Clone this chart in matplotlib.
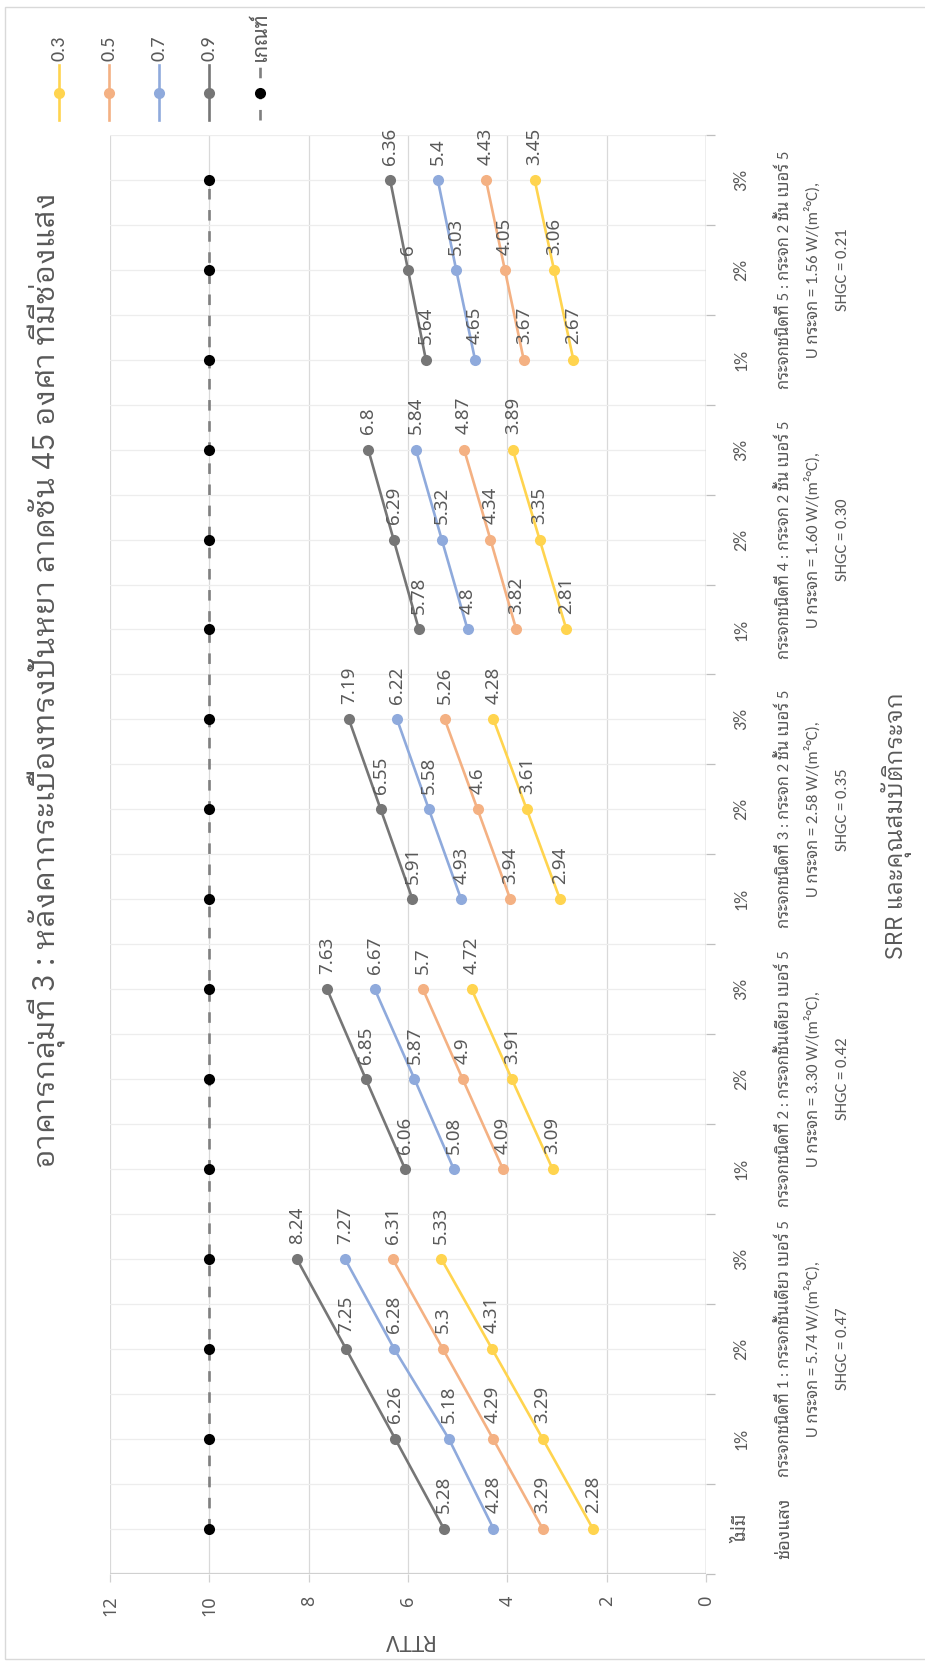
import matplotlib
matplotlib.use("Agg")
import matplotlib.pyplot as plt
import numpy as np
from matplotlib.lines import Line2D
from matplotlib.patches import Rectangle
from matplotlib import transforms

# ---- data -------------------------------------------------------------
title = "อาคารกลุ่มที่ 3 : หลังคากระเบื้องทรงปั้นหยา ลาดชัน 45 องศา ที่มีช่องแสง"
value_title = "RTTV"
category_title = "SRR และคุณสมบัติกระจก"

group_names = [
    "กระจกชนิดที่ 1 : กระจกชั้นเดียว เบอร์ 5",
    "กระจกชนิดที่ 2 : กระจกชั้นเดียว เบอร์ 5",
    "กระจกชนิดที่ 3 : กระจก 2 ชั้น เบอร์ 5",
    "กระจกชนิดที่ 4 : กระจก 2 ชั้น เบอร์ 5",
    "กระจกชนิดที่ 5 : กระจก 2 ชั้น เบอร์ 5",
]
group_u = ["5.74", "3.30", "2.58", "1.60", "1.56"]
group_shgc = ["0.47", "0.42", "0.35", "0.30", "0.21"]
group_windows = [
    ["ไม่มี\nช่องแสง", "1%", "2%", "3%"],
    ["1%", "2%", "3%"],
    ["1%", "2%", "3%"],
    ["1%", "2%", "3%"],
    ["1%", "2%", "3%"],
]

series_names = ["0.3", "0.5", "0.7", "0.9"]
rttv_03 = [[2.28, 3.29, 4.31, 5.33], [3.09, 3.91, 4.72], [2.94, 3.61, 4.28], [2.81, 3.35, 3.89], [2.67, 3.06, 3.45]]
rttv_05 = [[3.29, 4.29, 5.30, 6.31], [4.09, 4.90, 5.70], [3.94, 4.60, 5.26], [3.82, 4.34, 4.87], [3.67, 4.05, 4.43]]
rttv_07 = [[4.28, 5.18, 6.28, 7.27], [5.08, 5.87, 6.67], [4.93, 5.58, 6.22], [4.80, 5.32, 5.84], [4.65, 5.03, 5.40]]
rttv_09 = [[5.28, 6.26, 7.25, 8.24], [6.06, 6.85, 7.63], [5.91, 6.55, 7.19], [5.78, 6.29, 6.80], [5.64, 6.00, 6.36]]
criterion_name = "เกณฑ์"
criterion = [10, 10, 10, 10, 10, 10, 10, 10, 10, 10, 10, 10, 10, 10, 10, 10]

series_colors = ["#FFD44F", "#F4B183", "#8FAADC", "#767676"]
text_gray = "#595959"

# ---- fonts ------------------------------------------------------------
F_THAI = ["IBM Plex Sans Thai Looped", "Noto Sans Thai Looped", "Noto Sans", "DejaVu Sans"]
F_CAT = ["Carlito", "Noto Sans Thai Looped", "Noto Sans", "DejaVu Sans"]
F_NUM = ["Noto Sans", "DejaVu Sans"]
plt.rcParams["font.family"] = F_THAI

W, H = 925, 1661
fig = plt.figure(figsize=(W / 100, H / 100), dpi=100)


def fx(px):
    return px / W


def fy(py):
    return 1 - py / H


# frame around the whole chart
fig.patches.append(Rectangle((fx(5), fy(1659)), fx(940), fy(7) - fy(1659),
                             transform=fig.transFigure, fill=False,
                             edgecolor="#D9D9D9", linewidth=1.0))

left_px, right_px, top_px, bottom_px = 110, 706, 135, 1573.5
ax = fig.add_axes([fx(left_px), fy(bottom_px), fx(right_px - left_px),
                   (bottom_px - top_px) / H])

# category positions (bottom to top)
positions = []
pos = 0
for wins in group_windows:
    positions.append(list(range(pos, pos + len(wins))))
    pos += len(wins)
n_cat = pos

ax.set_xlim(12, 0)
ax.set_ylim(-0.5, n_cat - 0.5)

# grid
for v in range(0, 13, 2):
    ax.axvline(v, color="#D9D9D9", lw=0.9, zorder=0)
for b in np.arange(-0.5, n_cat, 0.5):
    ax.axhline(b, color="#EDEDED", lw=0.9, zorder=0)
ax.axhline(-0.5, color="#D0D0D0", lw=1.6, zorder=1)
ax.axvline(0, color="#BFBFBF", lw=1.0, zorder=1)

for s in ax.spines.values():
    s.set_visible(False)

ax.set_xticks(range(0, 13, 2))
ax.tick_params(axis="x", direction="out", length=6, width=0.9, color="#D0D0D0",
               labelrotation=90, labelsize=13, labelcolor=text_gray, pad=10)
for lab in ax.get_xticklabels():
    lab.set_fontfamily(F_NUM)
ax.yaxis.tick_right()
ax.set_yticks(np.arange(-0.5, n_cat, 1.0))
ax.set_yticklabels([])
ax.tick_params(axis="y", direction="out", length=6.5, width=0.9, color="#BFBFBF")

# series
all_series = [rttv_03, rttv_05, rttv_07, rttv_09]
for name, groups, col in zip(series_names, all_series, series_colors):
    for g, vals in enumerate(groups):
        ys = positions[g]
        ax.plot(vals, ys, color=col, lw=1.9, marker="o", ms=8,
                markeredgewidth=0, solid_capstyle="round", zorder=3)
        for v, y in zip(vals, ys):
            ax.annotate(f"{v:g}", (v, y), xytext=(0, 11), textcoords="offset points",
                        rotation=90, ha="center", va="bottom", fontsize=13.5,
                        color=text_gray, family=F_NUM, zorder=4)

crit_y = list(range(n_cat))
ax.plot(criterion, crit_y, color="#7F7F7F", lw=1.9, dashes=(4.0, 4.0), zorder=2)
ax.plot(criterion, crit_y, ls="none", marker="o", ms=8, color="black",
        markeredgewidth=0, zorder=3)

# category labels
tr = transforms.blended_transform_factory(fig.transFigure, ax.transData)
for g, wins in enumerate(group_windows):
    for y, w in zip(positions[g], wins):
        if "\n" in w:
            top, bot = w.split("\n")
            ax.text(fx(741), y, top, transform=tr, rotation=90, ha="center",
                    va="center", fontsize=13, color=text_gray, family=F_CAT)
            ax.text(fx(784), y, bot, transform=tr, rotation=90, ha="center",
                    va="center", fontsize=13, color=text_gray, family=F_CAT)
        else:
            ax.text(fx(741), y, w, transform=tr, rotation=90, ha="center",
                    va="center", fontsize=13, color=text_gray, family=F_CAT)
    # the first group's text sits beside the two-line "no window" label
    yc = np.mean(positions[g][1:]) if g == 0 else np.mean(positions[g])
    lines = [group_names[g], f"U กระจก = {group_u[g]} W/(m²°C),", f"SHGC = {group_shgc[g]}"]
    for txt, px in zip(lines, [784, 813, 843]):
        ax.text(fx(px), yc, txt, transform=tr, rotation=90, ha="center",
                va="center", fontsize=12, color=text_gray, family=F_CAT)

# titles
fig.text(fx(47), fy(680), title, rotation=90, ha="center", va="center",
         fontsize=22, color=text_gray, family=F_THAI)
fig.text(fx(407), fy(1640), value_title, rotation=180, ha="center", va="center",
         fontsize=16, color=text_gray, family=F_NUM)
fig.text(fx(896), fy(826), category_title, rotation=90, ha="center", va="center",
         fontsize=17, color=text_gray, family=F_THAI)

# legend
leg_x = [59, 109, 159, 209, 260]
leg_labels = series_names + [criterion_name]
for k, (x, lab) in enumerate(zip(leg_x, leg_labels)):
    if k < 4:
        fig.add_artist(Line2D([fx(x), fx(x)], [fy(120), fy(65)], transform=fig.transFigure,
                              color=series_colors[k], lw=1.9))
        fig.add_artist(Line2D([fx(x)], [fy(93)], transform=fig.transFigure, ls="none",
                              marker="o", ms=8, markeredgewidth=0, color=series_colors[k]))
    else:
        fig.add_artist(Line2D([fx(x), fx(x)], [fy(120), fy(65)], transform=fig.transFigure,
                              color="#7F7F7F", lw=1.9, dashes=(4.0, 4.0)))
        fig.add_artist(Line2D([fx(x)], [fy(93)], transform=fig.transFigure, ls="none",
                              marker="o", ms=8, markeredgewidth=0, color="black"))
    fig.text(fx(x), fy(61), lab, rotation=90, ha="center", va="bottom",
             fontsize=14.5, color=text_gray, family=F_CAT)

fig.savefig("out.png", dpi=100)
